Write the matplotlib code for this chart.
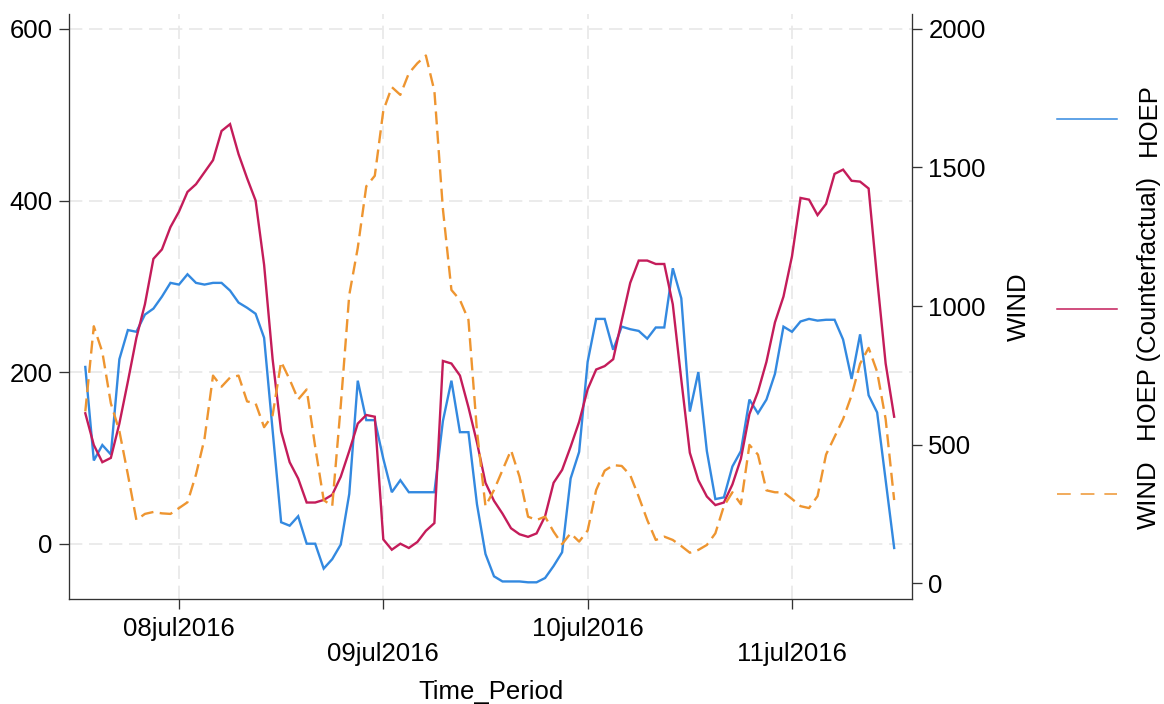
"""
HOEP vs counterfactual HOEP with wind output, 7-11 July 2016 (Stata-style twin axis chart).
"""

import matplotlib
matplotlib.use("Agg")
import matplotlib.pyplot as plt
import matplotlib.dates as mdates
from matplotlib.lines import Line2D
import pandas as pd

# Hourly data, starting 07jul2016 13:00
START = "2016-07-07 13:00"

hoep = [
    206, 97, 115, 104, 215, 249, 247, 267, 274, 288, 304,
    302, 314, 304, 302, 304, 304, 295, 281, 275, 268, 240,
    132, 25, 21, 32, 0, 0, -29, -18, -1, 58,
    190, 144, 144, 99, 60, 74, 60, 60, 60, 60,
    143, 190, 130, 130, 46, -12, -38, -44, -44, -44,
    -45, -45, -40, -26, -10, 76, 107, 212, 262, 262,
    226, 253, 250, 248, 239, 252, 252, 321, 286, 154,
    200, 108, 52, 54, 90, 108, 168, 152, 168, 198,
    253, 247, 259, 262, 260, 261, 261, 238, 192, 244,
    173, 153, 74, -5,
]

hoep_cf = [
    152, 115, 95, 100, 140, 189, 240, 279, 332, 343, 369,
    387, 410, 419, 433, 447, 481, 489, 454, 426, 400, 325,
    215, 131, 95, 76, 48, 48, 51, 57, 78, 108,
    140, 150, 148, 5, -7, 0, -5, 2, 15, 24,
    213, 210, 196, 159, 118, 71, 50, 35, 18, 11,
    8, 12, 32, 71, 86, 113, 142, 180, 203, 207,
    215, 260, 304, 330, 330, 326, 326, 279, 191, 106,
    74, 55, 45, 48, 69, 99, 151, 177, 212, 258,
    288, 335, 403, 401, 383, 396, 431, 436, 423, 422,
    414, 309, 210, 148,
]

wind = [
    620, 927, 834, 649, 549, 392, 228, 250, 257, 252, 250,
    271, 292, 392, 521, 749, 709, 742, 749, 656, 649, 563,
    606, 799, 735, 663, 699, 492, 300, 278, 640, 1040,
    1210, 1432, 1470, 1705, 1790, 1762, 1840, 1876, 1904, 1776,
    1350, 1058, 1022, 950, 549, 278, 336, 408, 480, 384,
    240, 228, 240, 186, 141, 180, 150, 190, 336, 406,
    426, 423, 390, 312, 228, 156, 168, 156, 134, 110,
    120, 138, 180, 278, 328, 285, 499, 464, 335, 328,
    328, 304, 278, 271, 314, 464, 528, 592, 678, 792,
    849, 763, 592, 300,
]

tick_dates = ["2016-07-08", "2016-07-09", "2016-07-10", "2016-07-11"]
tick_labels = ["08jul2016", "09jul2016", "10jul2016", "11jul2016"]
left_ticks = [0, 200, 400, 600]
right_ticks = [0, 500, 1000, 1500, 2000]
series_labels = ["HOEP", "HOEP (Counterfactual)", "WIND"]

BLUE = "#3389e0"
RED = "#c41c5a"
ORANGE = "#ee9530"
AXIS = "#333333"
GRID = "#e8e8e8"

plt.rcParams["font.family"] = ["Liberation Sans", "DejaVu Sans"]
FS = 18.5

times = pd.date_range(START, periods=len(hoep), freq="h")
tick_nums = mdates.date2num(pd.to_datetime(tick_dates))

W, H = 1164, 704
fig = plt.figure(figsize=(W / 100, H / 100), dpi=100)
left_px, right_px, top_px, bottom_px = 69.3, 911.7, 13.8, 599.3
ax = fig.add_axes([left_px / W, 1 - bottom_px / H,
                   (right_px - left_px) / W, (bottom_px - top_px) / H])
ax2 = ax.twinx()

# lines
ax.plot(times, hoep, color=BLUE, lw=1.7, solid_joinstyle="miter")
ax.plot(times, hoep_cf, color=RED, lw=1.7, solid_joinstyle="miter")
ax2.plot(times, wind, color=ORANGE, lw=1.7, dashes=(5.5, 2.7))

# x axis: Stata alternates label rows
day0 = mdates.date2num(pd.Timestamp("2016-07-08"))
ax.set_xlim(day0 - 12.88 / 24, day0 + 86.06 / 24)
ax.set_xticks(tick_nums[0::2], tick_labels[0::2])
ax.set_xticks(tick_nums[1::2], tick_labels[1::2], minor=True)
ax.tick_params(axis="x", which="both", length=7.2, width=0.95, color=AXIS,
               labelsize=FS, pad=5.6)
ax.tick_params(axis="x", which="minor", pad=23.6)

ax.set_ylim(-64.8, 617.6)
ax.set_yticks(left_ticks)
ax.tick_params(axis="y", length=7.2, width=0.95, color=AXIS, labelsize=FS, pad=4.75)

ax2.set_ylim(-58.1, 2054.5)
ax2.set_yticks(right_ticks)
ax2.tick_params(axis="y", length=7.2, width=0.95, color=AXIS, labelsize=FS, pad=4.75)

# grid
ax.grid(True, axis="x", which="both", color=GRID, lw=1.2, dashes=(8, 4))
ax.grid(True, axis="y", which="major", color=GRID, lw=1.2, dashes=(8, 4))
ax.set_axisbelow(True)

for a in (ax, ax2):
    a.spines["top"].set_visible(False)
    for s in a.spines.values():
        s.set_color(AXIS)
        s.set_linewidth(0.95)
ax.spines["right"].set_visible(False)
ax2.spines["left"].set_visible(False)
ax2.spines["bottom"].set_visible(False)

# axis titles
ax.set_xlabel("Time_Period", fontsize=FS)
ax.xaxis.set_label_coords(0.5, -0.137)
ax2.set_ylabel("WIND", fontsize=FS)
ax2.yaxis.set_label_coords((1006.5 - left_px) / (right_px - left_px), 0.5)

# legend: horizontal keys, rotated labels
legend_y = [119.3, 309.0, 494.3]
legend_styles = [
    dict(color=BLUE, lw=1.1),
    dict(color=RED, lw=1.1),
    dict(color=ORANGE, lw=1.1, dashes=(9, 6.5)),
]
for label, y_px, style in zip(series_labels, legend_y, legend_styles):
    yf = 1 - y_px / H
    fig.add_artist(Line2D([1057.3 / W, 1116.7 / W], [yf, yf],
                          transform=fig.transFigure, **style))
    fig.text(1137.0 / W, yf, label, rotation=90, ha="left", va="center",
             fontsize=FS)

fig.savefig("out.png", dpi=100, facecolor="white")
